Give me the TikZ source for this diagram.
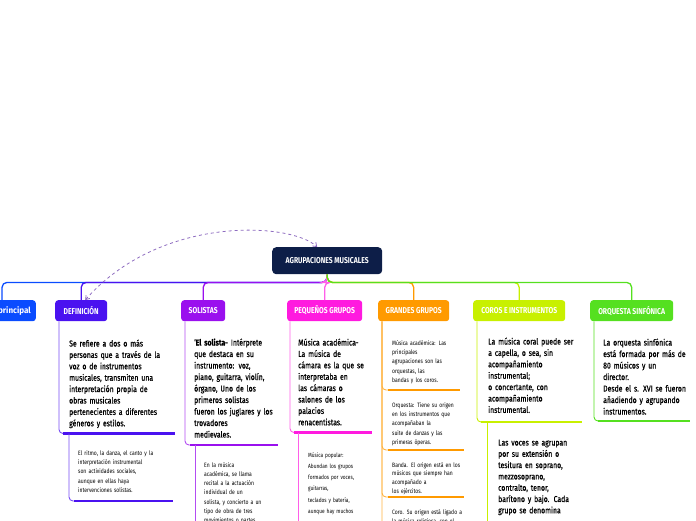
\documentclass[tikz,border=0pt]{standalone}
\usepackage{fontspec}
\setmainfont{Fira Sans}[FakeStretch=0.8]
\newfontfamily\bodyf{Fira Sans}[FakeStretch=0.8, FakeBold=0.6]
\newfontfamily\wideb{Fira Sans}[FakeStretch=0.95]
\usetikzlibrary{arrows.meta}
\definecolor{cmain}{HTML}{0D1E48}
\definecolor{cprin}{HTML}{0A4CFF}
\definecolor{cdef}{HTML}{4A12F0}
\definecolor{csol}{HTML}{9A10EE}
\definecolor{cpeq}{HTML}{FF1ADF}
\definecolor{cgra}{HTML}{FF9A00}
\definecolor{ccor}{HTML}{C8F000}
\definecolor{corq}{HTML}{55E020}
\definecolor{carr}{HTML}{8E6CC0}
\begin{document}
\begin{tikzpicture}[x=1pt,y=-1pt,
  topic/.style={fill=#1, rounded corners=3pt, text=white, font=\bfseries\fontsize{8.5}{9}\selectfont, inner xsep=5pt, inner ysep=0pt, minimum height=21pt, anchor=north west},
  conn/.style={draw=#1, line width=1.3pt, rounded corners=5pt},
  thinl/.style={draw=#1, line width=0.9pt, rounded corners=4pt},
  uline/.style={draw=#1, line width=2.6pt},
  body/.style={anchor=base west, align=left, inner sep=0pt, text width=140pt, font=\bodyf\fontsize{8.6}{11.4}\selectfont},
  small/.style={anchor=base west, align=left, inner sep=0pt, text width=120pt, font=\fontsize{6.3}{9.4}\selectfont},
  arrowc/.style={draw=carr, dashed, line width=0.8pt, {Straight Barb[length=3.5pt,width=5pt]}-{Straight Barb[length=3.5pt,width=5pt]}},
]
\useasboundingbox (0,0) rectangle (696,520);
\clip (0,0) rectangle (696,520);

% main topic and branches
\node[topic=cmain, minimum width=110pt, minimum height=27pt, rounded corners=4pt] (main) at (272,247) {AGRUPACIONES MUSICALES};
\node[topic=cprin, anchor=north east, inner xsep=5pt, font=\wideb\bfseries\fontsize{8.5}{9}\selectfont] (prin) at (36,300) {principal};
\coordinate (pin) at (2,300);
\node[topic=cdef, minimum width=52pt] (def) at (55,300) {DEFINICIÓN};
\node[topic=csol, minimum width=44pt] (sol) at (181,300) {SOLISTAS};
\node[topic=cpeq, minimum width=75pt] (peq) at (287,300) {PEQUEÑOS GRUPOS};
\node[topic=cgra, minimum width=71pt] (gra) at (378,300) {GRANDES GRUPOS};
\node[topic=ccor, minimum width=92pt] (cor) at (473,300) {COROS E INSTRUMENTOS};
\node[topic=corq, minimum width=83pt] (orq) at (590,300) {ORQUESTA SINFÓNICA};

\draw[conn=cprin] (main.south) -- ++(0,8) -| (pin);
\draw[conn=cdef] (main.south) -- ++(0,8) -| (def.north);
\draw[conn=csol] (main.south) -- ++(0,8) -| (sol.north);
\draw[conn=cpeq!70] (main.south) -- ++(0,8) -| (peq.north);
\draw[conn=cgra] (main.south) -- ++(0,8) -| (gra.north);
\draw[conn=ccor] (main.south) -- ++(0,8) -| (cor.north);
\draw[conn=corq] (main.south) -- ++(0,8) -| (orq.north);

\draw[arrowc] ([xshift=4pt]def.north) .. controls (160,215) and (290,222) .. ([xshift=-10pt]main.north);

% DEFINICION
\node[body] (dt) at (69,346.5) {Se refiere a dos o más\\personas que a través de la\\voz o de instrumentos\\musicales, transmiten una\\interpretación propia de\\obras musicales\\pertenecientes a diferentes\\géneros y estilos.};
\coordinate (du0) at (63,433.5); \coordinate (du1) at (175,433.5);
\draw[thinl=cdef!75] ([xshift=4pt]def.south west) |- (du0);
\draw[uline=cdef] (du0) -- (du1);
\node[small] (ds) at (78,455) {El ritmo, la danza, el canto y la\\interpretación instrumental\\son actividades sociales,\\aunque en ellas haya\\intervenciones solistas.};
\coordinate (dsv) at (69,433.5);
\coordinate (dsu0) at (74,501); \coordinate (dsu1) at (173,501);
\draw[thinl=cdef!75] (dsv) |- (dsu0);
\draw[uline=cdef] (dsu0) -- (dsu1);

% SOLISTAS
\node[body, font=\bodyf\fontsize{8.6}{11.5}\selectfont] (st) at (194,345.5) {‘\textbf{El solista-} Intérprete\\que destaca en su\\instrumento: voz,\\piano, guitarra, violín,\\órgano, Uno de los\\primeros solistas\\fueron los juglares y los\\trovadores\\medievales.};
\coordinate (su0) at (190,445); \coordinate (su1) at (278,445);
\draw[thinl=csol!75] ([xshift=4pt]sol.south west) |- (su0);
\draw[uline=csol] (su0) -- (su1);
\node[small, font=\fontsize{6.3}{9.3}\selectfont] (ss) at (204,467) {En la música\\académica, se llama\\recital a la actuación\\individual de un\\solista, y concierto a un\\tipo de obra de tres\\movimientos o partes};
\coordinate (ssv) at (195,445); \coordinate (ssb) at (195,540);
\draw[thinl=csol!75] (ssv) -- (ssb);

% PEQUENOS GRUPOS
\node[body] (pt) at (298,345.5) {Música académica-\\La música de\\cámara es la que se\\interpretaba en\\las cámaras o\\salones de los\\palacios\\renacentistas.};
\coordinate (pu0) at (294,432.5); \coordinate (pu1) at (372,432.5);
\draw[thinl=cpeq!70] ([xshift=3pt]peq.south west) |- (pu0);
\draw[uline=cpeq] (pu0) -- (pu1);
\node[small, font=\fontsize{6}{11.3}\selectfont] (ps) at (308,457) {Música popular:\\Abundan los grupos\\formados por voces,\\guitarras,\\teclados y batería,\\aunque hay muchos};
\coordinate (psv) at (298,432.5); \coordinate (psb) at (298,540);
\draw[thinl=cpeq!70] (psv) -- (psb);

% GRANDES GRUPOS
\node[small] (g1) at (392,345) {Música académica: Las\\principales\\agrupaciones son las\\orquestas, las\\bandas y los coros.};
\node[small] (g2) at (392,407) {Orquesta: Tiene su origen\\en los instrumentos que\\acompañaban la\\suite de danzas y las\\primeras óperas.};
\node[small, font=\fontsize{6.3}{8.8}\selectfont] (g3) at (392,467) {Banda. El origen está en los\\músicos que siempre han\\acompañado a\\los ejércitos.};
\node[small] (g4) at (392,514) {Coro. Su origen está ligado a\\la música religiosa, con el};
\coordinate (gu1a) at (388,390); \coordinate (gu1b) at (460,390);
\coordinate (gu2a) at (388,450); \coordinate (gu2b) at (464,450);
\coordinate (gu3a) at (388,497); \coordinate (gu3b) at (464,497);
\coordinate (gu4a) at (388,545); \coordinate (gu4b) at (464,545);
\foreach \a/\b in {gu4a/gu4b,gu3a/gu3b,gu2a/gu2b,gu1a/gu1b}{
  \draw[thinl=cgra!75] ([xshift=4pt]gra.south west) |- (\a);
  \draw[uline=cgra] (\a) -- (\b);
}

% COROS E INSTRUMENTOS
\node[body] (ct) at (488,344.5) {La música coral puede ser\\a capella, o sea, sin\\acompañamiento\\instrumental;\\o concertante, con\\acompañamiento\\instrumental.};
\coordinate (cu0) at (481,422); \coordinate (cu1) at (582,422);
\draw[thinl=ccor] ([xshift=4pt]cor.south west) |- (cu0);
\draw[uline=ccor] (cu0) -- (cu1);
\node[body, font=\bodyf\fontsize{8.6}{11.3}\selectfont] (cs) at (498,445.5) {Las voces se agrupan\\por su extensión o\\tesitura en soprano,\\mezzosoprano,\\contralto, tenor,\\barítono y bajo. Cada\\grupo se denomina};
\coordinate (csv) at (487,422); \coordinate (csb) at (487,540);
\draw[thinl=ccor] (csv) -- (csb);

% ORQUESTA SINFONICA
\node[body, font=\bodyf\fontsize{8.6}{11.5}\selectfont] (ot) at (603,345.5) {La orquesta sinfónica\\está formada por más de\\80 músicos y un\\director.\\Desde el s. XVI se fueron\\añadiendo y agrupando\\instrumentos.};
\coordinate (ou0) at (598,421); \coordinate (ou1) at (690,421);
\draw[thinl=corq] ([xshift=4pt]orq.south west) |- (ou0);
\draw[uline=corq] (ou0) -- (ou1);
\end{tikzpicture}
\end{document}
